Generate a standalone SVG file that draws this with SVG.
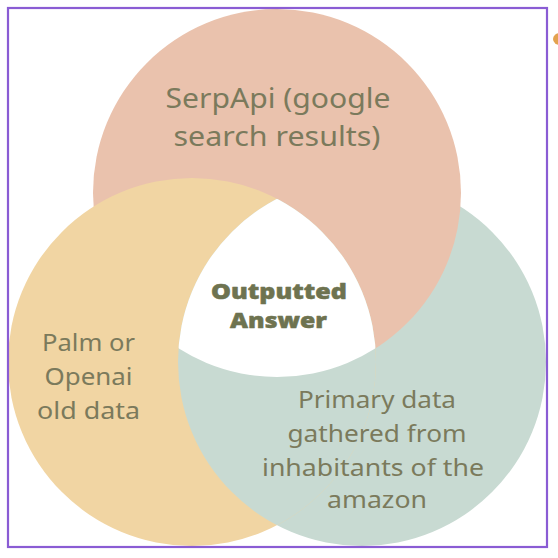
<svg xmlns="http://www.w3.org/2000/svg" width="558" height="558" viewBox="0 0 558 558">
<style>
.lbl{font-family:"Noto Sans","Open Sans","Liberation Sans",sans-serif;fill:#7b7a5c;text-anchor:middle}
.big{font-size:27px}
.mid{font-size:24px}
.bold{font-family:"Open Sans","Noto Sans","Liberation Sans",sans-serif;font-weight:800;font-size:21px;fill:#6e7350;stroke:#6e7350;stroke-width:0.5;stroke-linejoin:round;text-anchor:middle}
</style>
<defs>
<clipPath id="cY"><circle cx="192" cy="362" r="184"/></clipPath>
<clipPath id="cG"><circle cx="362" cy="362" r="184"/></clipPath>
</defs>
<rect x="0" y="0" width="558" height="558" fill="#ffffff"/>
<ellipse cx="560" cy="39" rx="7" ry="6" fill="#e3a24f"/>
<g id="venn">
<circle id="green" cx="362" cy="362" r="184" fill="#c8dad2"/>
<circle id="pink" cx="277" cy="193" r="184" fill="#eac2ad"/>
<circle id="yellow" cx="192" cy="362" r="184" fill="#f1d5a3"/>
<circle cx="362" cy="362" r="184" fill="#c8dad2" clip-path="url(#cY)"/>
<g clip-path="url(#cG)"><circle id="center" cx="277" cy="193" r="184" fill="#ffffff" clip-path="url(#cY)"/></g>
</g>
<rect x="8" y="8" width="539" height="539" fill="none" stroke="#8a5cd4" stroke-width="2.2"/>
<g id="node-serpapi">
<text class="lbl big" x="278" y="108" textLength="225" lengthAdjust="spacingAndGlyphs">SerpApi (google</text>
<text class="lbl big" x="277" y="146" textLength="207" lengthAdjust="spacingAndGlyphs">search results)</text>
</g>
<g id="node-palm">
<text class="lbl mid" x="88.5" y="351" textLength="93" lengthAdjust="spacingAndGlyphs">Palm or</text>
<text class="lbl mid" x="88.5" y="385" textLength="88" lengthAdjust="spacingAndGlyphs">Openai</text>
<text class="lbl mid" x="88.5" y="419" textLength="103" lengthAdjust="spacingAndGlyphs">old data</text>
</g>
<g id="node-primary">
<text class="lbl mid" x="377" y="408" textLength="158" lengthAdjust="spacingAndGlyphs">Primary data</text>
<text class="lbl mid" x="377" y="442" textLength="179" lengthAdjust="spacingAndGlyphs">gathered from</text>
<text class="lbl mid" x="373" y="476" textLength="222" lengthAdjust="spacingAndGlyphs">inhabitants of the</text>
<text class="lbl mid" x="377" y="508" textLength="100" lengthAdjust="spacingAndGlyphs">amazon</text>
</g>
<g id="node-output">
<text class="bold" x="279" y="299" textLength="136" lengthAdjust="spacingAndGlyphs">Outputted</text>
<text class="bold" x="278.5" y="328" textLength="97" lengthAdjust="spacingAndGlyphs">Answer</text>
</g>
<g id="connectors"></g>
</svg>
